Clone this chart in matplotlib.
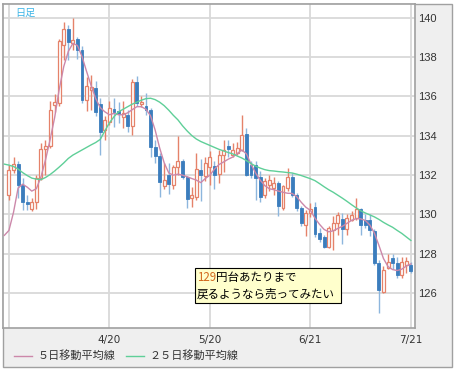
import matplotlib
matplotlib.use("Agg")
import matplotlib.pyplot as plt
from matplotlib.patches import Rectangle
import numpy as np

plt.rcParams['font.family'] = ['Noto Sans CJK JP', 'DejaVu Sans']

# daily candles, index 0 = first day shown ... 88 = 7/21
opens = [131.00, 132.25, 132.57, 131.50, 130.60, 130.25, 130.64, 131.86, 133.30, 133.45,
         135.55, 135.66, 138.60, 139.44, 138.72, 138.93, 138.37, 135.80, 136.30, 136.40,
         135.60, 134.30, 134.70, 135.37, 135.23, 134.97, 135.06, 134.50, 136.71, 135.60,
         135.49, 135.28, 133.42, 132.94, 131.45, 132.00, 131.50, 132.40, 132.69, 131.90,
         130.82, 130.90, 132.26, 131.96, 132.42, 132.48, 132.06, 133.00, 133.48, 133.03,
         133.11, 133.28, 134.10, 132.52, 132.52, 131.92, 131.00, 131.50, 131.35, 131.60,
         130.31, 131.33, 131.90, 131.00, 130.31, 129.45, 130.08, 130.37, 129.06, 128.85,
         128.35, 129.20, 129.58, 129.76, 129.25, 129.70, 129.80, 130.26, 129.70, 129.72,
         129.17, 127.52, 126.07, 127.26, 127.77, 127.52, 126.92, 127.43, 127.43]
highs = [132.50, 132.90, 132.72, 131.86, 131.00, 130.84, 132.00, 133.60, 133.80, 135.74,
         136.10, 138.90, 139.75, 139.60, 140.00, 139.00, 138.54, 137.00, 137.10, 136.80,
         135.90, 135.00, 135.74, 135.93, 135.70, 135.74, 135.30, 136.90, 137.05, 136.00,
         136.15, 135.40, 133.80, 133.10, 132.59, 132.60, 132.50, 133.96, 132.80, 131.95,
         131.40, 133.10, 132.80, 132.90, 133.20, 132.69, 133.27, 133.78, 133.78, 133.60,
         133.70, 135.06, 134.40, 132.70, 132.70, 132.20, 131.85, 132.00, 131.90, 131.70,
         131.50, 132.37, 132.10, 131.10, 130.40, 130.20, 130.56, 130.65, 129.30, 128.95,
         129.40, 129.90, 130.10, 130.05, 130.00, 130.15, 130.84, 130.30, 130.00, 130.00,
         129.25, 127.70, 127.35, 128.00, 128.00, 127.85, 127.85, 127.85, 127.60]
lows = [130.74, 132.10, 130.84, 130.23, 130.23, 130.18, 130.28, 131.75, 132.00, 133.38,
        135.20, 135.50, 137.86, 137.86, 138.37, 137.90, 135.66, 135.23, 135.30, 135.00,
        133.00, 133.80, 134.55, 134.45, 134.64, 134.38, 134.20, 134.05, 135.49, 135.45,
        135.05, 132.90, 132.60, 130.90, 131.31, 131.05, 131.30, 132.00, 131.80, 130.30,
        130.37, 130.72, 130.70, 131.70, 131.50, 131.28, 131.58, 132.16, 132.90, 132.90,
        133.00, 133.20, 131.95, 131.85, 130.74, 130.60, 130.85, 131.20, 131.00, 129.90,
        130.20, 131.20, 130.90, 130.15, 129.40, 128.90, 129.86, 128.85, 128.60, 128.30,
        128.30, 128.20, 128.95, 128.50, 128.95, 129.65, 129.70, 128.96, 129.30, 128.90,
        127.40, 124.97, 126.00, 127.20, 127.20, 126.75, 126.75, 127.00, 127.00]
closes = [132.26, 132.55, 131.50, 130.60, 130.50, 130.65, 131.86, 133.33, 133.45, 135.30,
          135.70, 138.80, 139.40, 138.76, 138.88, 138.37, 135.83, 136.50, 136.45, 135.20,
          134.20, 134.80, 135.42, 135.18, 135.10, 135.15, 134.47, 136.70, 135.66, 135.72,
          135.28, 133.42, 132.94, 131.62, 131.72, 131.55, 132.40, 132.69, 131.90, 130.77,
          130.99, 132.30, 132.01, 132.60, 132.90, 132.00, 133.00, 133.28, 133.32, 133.28,
          133.37, 134.05, 132.00, 132.00, 131.84, 130.90, 131.67, 131.76, 131.60, 130.40,
          131.42, 131.92, 131.00, 130.30, 129.55, 130.05, 130.28, 129.00, 128.75, 128.35,
          129.30, 129.55, 129.97, 129.25, 129.82, 129.97, 130.26, 129.47, 129.47, 129.20,
          127.52, 126.16, 127.17, 127.60, 127.52, 126.92, 127.60, 127.65, 127.14]

# moving averages, starting one day before the first candle
ma5 = [128.93, 129.18, 130.10, 131.33, 131.53, 131.38, 131.18, 131.30, 131.89, 132.76,
       133.78, 134.91, 136.34, 137.51, 138.28, 138.69, 138.58, 138.02, 137.26, 136.54,
       135.88, 135.42, 135.21, 135.06, 135.13, 135.06, 135.06, 135.16, 135.32, 135.47,
       135.47, 135.34, 135.01, 134.29, 133.37, 132.61, 132.10, 131.99, 132.04, 131.99,
       131.91, 131.82, 131.74, 131.61, 131.82, 131.99, 132.30, 132.53, 132.66, 132.80,
       132.91, 133.09, 133.27, 133.07, 132.55, 132.10, 131.74, 131.46, 131.30, 131.25,
       131.18, 131.12, 131.07, 131.06, 130.90, 130.61, 130.36, 130.20, 129.80, 129.49,
       129.23, 129.11, 129.16, 129.28, 129.39, 129.54, 129.69, 129.78, 129.77, 129.69,
       129.46, 129.05, 128.42, 127.75, 127.34, 127.19, 127.14, 127.21, 127.37, 127.48]
ma25 = [132.55, 132.50, 132.43, 132.30, 132.12, 131.97, 131.84, 131.79, 131.76, 131.87,
        132.02, 132.20, 132.40, 132.61, 132.84, 133.01, 133.14, 133.27, 133.40, 133.53,
        133.65, 133.81, 134.24, 134.65, 134.96, 135.21, 135.34, 135.47, 135.60, 135.70,
        135.80, 135.88, 135.90, 135.83, 135.70, 135.52, 135.29, 135.03, 134.80, 134.50,
        134.24, 134.01, 133.83, 133.70, 133.60, 133.50, 133.40, 133.30, 133.22, 133.14,
        133.07, 132.96, 132.86, 132.73, 132.58, 132.45, 132.35, 132.27, 132.22, 132.20,
        132.17, 132.15, 132.12, 132.10, 132.04, 131.97, 131.89, 131.81, 131.71, 131.56,
        131.40, 131.25, 131.12, 130.97, 130.82, 130.66, 130.49, 130.33, 130.18, 130.07,
        129.97, 129.87, 129.74, 129.59, 129.46, 129.34, 129.18, 129.03, 128.85, 128.67]

tick_days = [0, 22, 44, 66, 88]
tick_labels = ['', '4/20', '5/20', '6/21', '7/21']
price_ticks = [126, 128, 130, 132, 134, 136, 138, 140]

W, H = 458, 370
fig = plt.figure(figsize=(W / 100, H / 100), dpi=100)

# gray frame behind everything (right axis panel + bottom legend area)
fig.patches.append(Rectangle((3 / W, 3 / H), 449 / W, 363 / H, transform=fig.transFigure,
                             facecolor='#efefef', edgecolor='#a0a0a0', lw=1, zorder=-5))

ax = fig.add_axes([3 / W, 42 / H, 412 / W, 324 / H])
ax.set_facecolor('white')
ax.set_zorder(1)

days = np.arange(len(opens))
o = np.array(opens)
c = np.array(closes)
up = c >= o
dn = ~up

up_col = '#e5826a'
dn_col = '#3b7dbd'
dn_wick = '#8db6dd'

ax.vlines(days[up], np.array(lows)[up], np.array(highs)[up], color=up_col, lw=1, zorder=2)
ax.vlines(days[dn], np.array(lows)[dn], np.array(highs)[dn], color=dn_wick, lw=1, zorder=2)
ax.bar(days[up], (c - o)[up], bottom=o[up], width=0.64, facecolor='white',
       edgecolor=up_col, lw=0.9, zorder=3)
ax.bar(days[dn], (c - o)[dn], bottom=o[dn], width=0.64, facecolor=dn_col,
       edgecolor=dn_col, lw=0.6, zorder=3)

ma_days = np.arange(-1, len(opens))
l5, = ax.plot(ma_days, ma5, color='#cc88aa', lw=1, zorder=4, label='５日移動平均線')
l25, = ax.plot(ma_days, ma25, color='#5fcf98', lw=1, zorder=4, label='２５日移動平均線')

ax.set_xlim(-1.3, 88.9)
ax.set_ylim(124.22, 140.69)

ax.set_xticks(tick_days)
ax.set_xticklabels(tick_labels, family='DejaVu Sans', fontsize=7.5, color='#333333')
ax.set_yticks(price_ticks)
ax.set_yticklabels([str(v) for v in price_ticks], family='Liberation Sans', fontsize=8,
                   color='#333333')
ax.yaxis.tick_right()
ax.tick_params(axis='both', length=0)
ax.tick_params(axis='x', pad=5)
ax.tick_params(axis='y', pad=2)
ax.grid(True, color='#d9d9d9', lw=1.3, zorder=0)
ax.set_axisbelow(True)
for s in ax.spines.values():
    s.set_color('#a0a0a0')
    s.set_linewidth(1.2)

ax.text(0.029, 0.974, '日足', transform=ax.transAxes, color='#3cb4e6', fontsize=7.3,
        va='center', ha='left')

# note box
ax.add_patch(Rectangle((0.466, 0.077), 0.354, 0.108, transform=ax.transAxes,
                       facecolor='#ffffcc', edgecolor='black', lw=0.8, zorder=5))
t1 = ax.text(0.471, 0.157, '129', transform=ax.transAxes, color='#d2691e', fontsize=8.3,
             va='center', ha='left', zorder=6)
ax.annotate('円台あたりまで', xy=(1, 0), xycoords=t1, va='bottom', ha='left',
            fontsize=8.3, color='black', zorder=6)
ax.text(0.471, 0.103, '戻るようなら売ってみたい', transform=ax.transAxes, color='black',
        fontsize=8.3, va='center', ha='left', zorder=6)

fig.legend(handles=[l5, l25], loc='center left', bbox_to_anchor=(14 / W, 14 / H),
           ncol=2, frameon=False, fontsize=8, handlelength=1.6, handletextpad=0.55,
           columnspacing=0.9, borderpad=0, borderaxespad=0, labelcolor='#333333')

fig.savefig('out.png', dpi=100)
